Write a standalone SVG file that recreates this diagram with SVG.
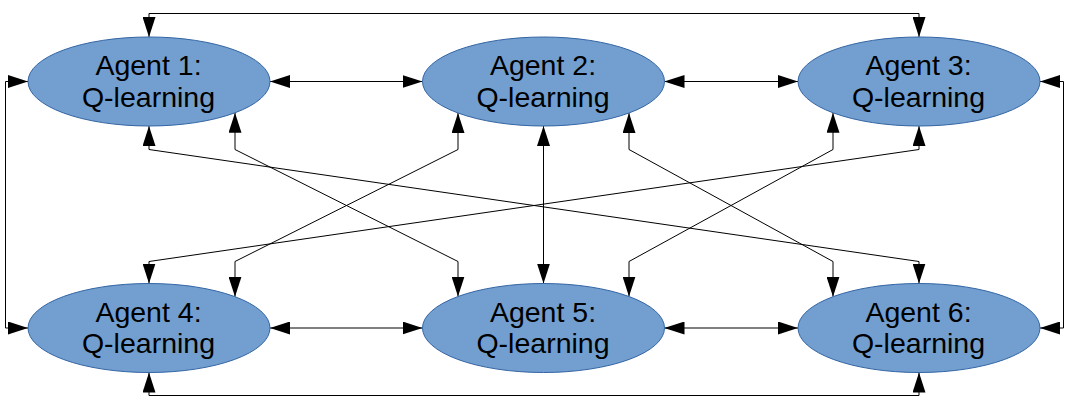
<svg xmlns="http://www.w3.org/2000/svg" width="1074" height="405" viewBox="0 0 1074 405">
<style>
.node ellipse{fill:#729fcf;stroke:#3465a4;stroke-width:1}
.node text{font-family:"Liberation Sans",Arial,sans-serif;font-size:28.5px;fill:#000;text-anchor:middle}
.conn path{fill:none;stroke:#000;stroke-width:1;marker-start:url(#arr);marker-end:url(#arr)}
</style>
<defs>
<marker id="arr" markerUnits="userSpaceOnUse" markerWidth="20" markerHeight="13" refX="20" refY="6.5" orient="auto-start-reverse" viewBox="0 0 20 13">
<path d="M0,0 L20,6.5 L0,13 z" fill="#000"/>
</marker>
</defs>
<rect width="1074" height="405" fill="#fff"/>
<g id="connectors" class="conn">
<path d="M149,37 V13.5 H919 V37"/>
<path d="M28,81.5 H5.5 V328 H28"/>
<path d="M1040,81.5 H1063.5 V328 H1040"/>
<path d="M149,372.5 V395.5 H919 V372.5"/>
<path d="M270,81.5 H422.5"/>
<path d="M664.5,81.5 H798"/>
<path d="M270,328 H422.5"/>
<path d="M664.5,328 H798"/>
<path d="M543.5,126 V283.5"/>
<path d="M149,126 V149.5 L919,261.5 V283.5"/>
<path d="M919,126 V149.5 L149,261.5 V283.5"/>
<path d="M235,112.8 V149.5 L458,261.5 V296.5"/>
<path d="M458,113 V149.5 L235,261.5 V296.7"/>
<path d="M629,113 V149.5 L833,261.5 V296.7"/>
<path d="M833,112.8 V149.5 L629,261.5 V296.5"/>
</g>
<g id="agent1" class="node"><ellipse cx="149" cy="81.5" rx="121" ry="44.5"/><text x="148.5" y="75">Agent 1:</text><text x="148.5" y="106.5">Q-learning</text></g>
<g id="agent2" class="node"><ellipse cx="543.5" cy="81.5" rx="121" ry="44.5"/><text x="543" y="75">Agent 2:</text><text x="543" y="106.5">Q-learning</text></g>
<g id="agent3" class="node"><ellipse cx="919" cy="81.5" rx="121" ry="44.5"/><text x="918.5" y="75">Agent 3:</text><text x="918.5" y="106.5">Q-learning</text></g>
<g id="agent4" class="node"><ellipse cx="149" cy="328" rx="121" ry="44.5"/><text x="148.5" y="321.5">Agent 4:</text><text x="148.5" y="353">Q-learning</text></g>
<g id="agent5" class="node"><ellipse cx="543.5" cy="328" rx="121" ry="44.5"/><text x="543" y="321.5">Agent 5:</text><text x="543" y="353">Q-learning</text></g>
<g id="agent6" class="node"><ellipse cx="919" cy="328" rx="121" ry="44.5"/><text x="918.5" y="321.5">Agent 6:</text><text x="918.5" y="353">Q-learning</text></g>
</svg>
